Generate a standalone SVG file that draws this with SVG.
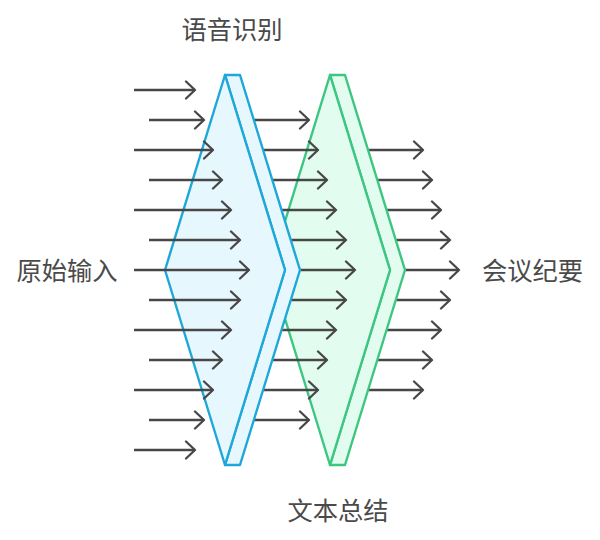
<svg xmlns="http://www.w3.org/2000/svg" width="600" height="540" viewBox="0 0 600 540">
<style>
.arr{stroke:#474747;stroke-width:2.3;fill:none;marker-end:url(#ah)}
.blue{fill:#e6f7fe;stroke:#1ea7d9;stroke-width:2.4;stroke-linejoin:round}
.green{fill:#e2fcef;stroke:#3cc681;stroke-width:2.4;stroke-linejoin:round}
.lbl{font-family:"Noto Sans CJK SC","Noto Sans",sans-serif;font-size:25.3px;fill:#4a4a4a;text-anchor:middle}
</style>
<defs>
<marker id="ah" markerUnits="userSpaceOnUse" markerWidth="14" markerHeight="20" viewBox="0 0 14 20" refX="11" refY="10" orient="auto">
<path d="M2,1.5 L11,10 L2,18.5" fill="none" stroke="#474747" stroke-width="2.3" stroke-linecap="round" stroke-linejoin="round"/>
</marker>
</defs>
<g id="connectors-right">
<path class="arr" d="M350,150 H423"/>
<path class="arr" d="M350,180 H432"/>
<path class="arr" d="M350,210 H441"/>
<path class="arr" d="M350,240 H450"/>
<path class="arr" d="M350,270 H459"/>
<path class="arr" d="M350,300 H450"/>
<path class="arr" d="M350,330 H441"/>
<path class="arr" d="M350,360 H432"/>
<path class="arr" d="M350,390 H423"/>
</g>
<g id="summary">
<polygon class="green" points="330,75 345,75 405,270 345,465 330,465 390,270"/>
<polygon class="green" points="330,75 270,270 330,465 390,270"/>
</g>
<g id="connectors-middle">
<path class="arr" d="M245,120 H309"/>
<path class="arr" d="M245,150 H318"/>
<path class="arr" d="M245,180 H327"/>
<path class="arr" d="M245,210 H336"/>
<path class="arr" d="M245,240 H346"/>
<path class="arr" d="M245,270 H355"/>
<path class="arr" d="M245,300 H346"/>
<path class="arr" d="M245,330 H336"/>
<path class="arr" d="M245,360 H327"/>
<path class="arr" d="M245,390 H318"/>
<path class="arr" d="M245,420 H309"/>
</g>
<g id="speech">
<polygon class="blue" points="225,75 240,75 300,270 240,465 225,465 285,270"/>
<polygon class="blue" points="225,75 165,270 225,465 285,270"/>
</g>
<g id="connectors-left">
<path class="arr" d="M134,90 H195"/>
<path class="arr" d="M149,120 H204"/>
<path class="arr" d="M134,150 H213"/>
<path class="arr" d="M149,180 H222"/>
<path class="arr" d="M134,210 H231"/>
<path class="arr" d="M149,240 H240"/>
<path class="arr" d="M134,270 H249"/>
<path class="arr" d="M149,300 H240"/>
<path class="arr" d="M134,330 H231"/>
<path class="arr" d="M149,360 H222"/>
<path class="arr" d="M134,390 H213"/>
<path class="arr" d="M149,420 H204"/>
<path class="arr" d="M134,450 H195"/>
</g>
<g id="label-speech"><text class="lbl" x="232" y="38.5">语音识别</text></g>
<g id="label-input"><text class="lbl" x="67" y="279.5">原始输入</text></g>
<g id="label-output"><text class="lbl" x="532.5" y="279.5">会议纪要</text></g>
<g id="label-summary"><text class="lbl" x="338" y="519.5">文本总结</text></g>
</svg>
